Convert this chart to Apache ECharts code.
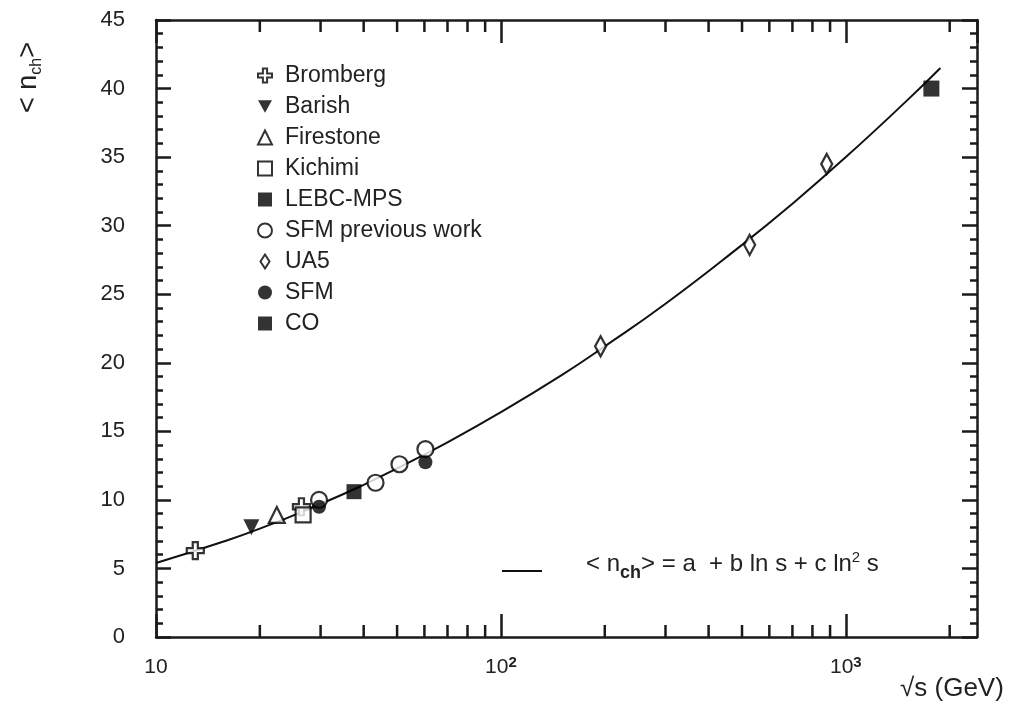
<!DOCTYPE html>
<html><head><meta charset="utf-8">
<script src="https://cdn.jsdelivr.net/npm/echarts@6/dist/echarts.min.js"></script>
<style>html,body{margin:0;padding:0;background:#fff}#c{width:1023px;height:705px}</style>
</head><body><div id="c"></div>
<script>
// ---- data ----
const seriesNames = ['Bromberg', 'Barish', 'Firestone', 'Kichimi', 'LEBC-MPS', 'SFM previous work', 'UA5', 'SFM', 'CO'];
const bromberg = [[13, 6.3], [26.4, 9.5]];
const barish = [[18.9, 8.0]];
const firestone = [[22.4, 8.9]];
const kichimi = [[26.7, 8.9]];
const lebcMps = [[37.5, 10.6]];
const sfmPrevious = [[29.7, 10.0], [43.3, 11.25], [50.8, 12.6], [60.4, 13.7]];
const ua5 = [[194.5, 21.2], [526, 28.6], [880, 34.5]];
const sfm = [[29.7, 9.5], [60.4, 12.75]];
const co = [[1770, 40.0]];
const fitX = [10, 15, 20, 30, 40, 50, 70, 100, 150, 200, 300, 500, 700, 1000, 1500, 1880];
const fitY = [5.4, 6.8, 7.9, 9.7, 11.1, 12.3, 14.2, 16.4, 19.1, 21.2, 24.3, 28.6, 31.6, 35.0, 39.1, 41.5];
const xMajorTicks = [10, 100, 1000];
const xMajorLabels = ['10', '10{sup|2}', '10{sup|3}'];
const xMinorTicks = [20, 30, 40, 50, 60, 70, 80, 90, 200, 300, 400, 500, 600, 700, 800, 900, 2000];
const yTicks = [0, 5, 10, 15, 20, 25, 30, 35, 40, 45];

// ---- chart ----
const FONTNAME = '"Liberation Sans", Arial, sans-serif';
const INK = '#1a1a1a';
const TXT = '#222';
const chart = echarts.init(document.getElementById('c'), null, {renderer: 'canvas'});

const measureCtx = document.createElement('canvas').getContext('2d');
function tw(text, size, weight) {
  measureCtx.font = (weight || 'normal') + ' ' + size + 'px ' + FONTNAME;
  return measureCtx.measureText(text).width;
}
function txt(text, x, y, size, weight, align) {
  return {type: 'text', x: x, y: y, style: {
    text: text, fontFamily: FONTNAME, fontSize: size, fontWeight: weight || 'normal',
    fill: TXT, align: align || 'left', verticalAlign: 'middle'}};
}

const crossPath = 'path://M7,0 H13 V7 H20 V13 H13 V20 H7 V13 H0 V7 H7 Z';
const downTri = 'path://M0,0 L20,0 L10,18 Z';
const narrowDiamond = 'path://M0,0 M20,20 M10,0 L15,10 L10,20 L5,10 Z';
const legendDiamond = 'path://M0,0 M20,20 M10,0 L16.5,10 L10,20 L3.5,10 Z';

function scatter(name, data, symbol, size, filled) {
  return {
    type: 'scatter', name: name, data: data, symbol: symbol, symbolSize: size, z: 5,
    itemStyle: filled ? {color: '#000', borderColor: '#000', borderWidth: 0}
                      : {color: '#fff', borderColor: '#000', borderWidth: 2.2},
    emphasis: {disabled: true}
  };
}

// y-axis title: "< n_ch >" rotated
const ttlBase = 27, ttlSub = 16;
const w1 = tw('< n', ttlBase), w2 = tw('ch', ttlSub);
const yTitle = {
  type: 'group', x: 29, y: 113, rotation: Math.PI / 2, z: 10,
  children: [
    txt('< n', 0, 0, ttlBase),
    txt('ch', w1, 8, ttlSub),
    txt('>', w1 + w2, 0, ttlBase)
  ]
};

// formula legend text
const fB = 24, fS = 18, fP = 15;
const parts = [
  ['< n', fB, 'normal', 0],
  ['ch', fS, 'bold', 9],
  ['> = a  + b ln s + c ln', fB, 'normal', 0],
  ['2', fP, 'normal', -6],
  [' s', fB, 'normal', 0]
];
let fx = 0;
const formulaChildren = parts.map(p => {
  const el = txt(p[0], fx, p[3], p[1], p[2]);
  fx += tw(p[0], p[1], p[2]);
  return el;
});
const formula = {type: 'group', x: 586, y: 564, z: 10, children: formulaChildren};

const option = {
  animation: false,
  backgroundColor: '#fff',
  grid: {left: 156, right: 46, top: 20, bottom: 68, containLabel: false},
  legend: {
    orient: 'vertical', left: 252, top: 59, itemWidth: 14, itemHeight: 14, itemGap: 8,
    selectedMode: false,
    textStyle: {fontFamily: FONTNAME, fontSize: 23, color: TXT, lineHeight: 22, padding: [0, 0, 0, 8]},
    data: seriesNames.map(n => n === 'UA5' ? {name: n, icon: legendDiamond} : {name: n})
  },
  xAxis: [{
    type: 'log', logBase: 10, min: 10, max: 2400, position: 'bottom',
    axisLine: {onZero: false, lineStyle: {color: INK, width: 2.5}},
    axisTick: {inside: true, length: 23, lineStyle: {color: INK, width: 2.5}},
    splitLine: {show: false},
    axisLabel: {
      margin: 18, showMaxLabel: false, hideOverlap: false,
      formatter: function (v) {
        const i = xMajorTicks.findIndex(t => Math.abs(Math.log10(t) - Math.log10(v)) < 1e-6);
        return i >= 0 ? xMajorLabels[i] : '';
      },
      rich: {
        sup: {fontFamily: FONTNAME, fontSize: 15, fontWeight: 'bold', color: TXT, verticalAlign: 'top', lineHeight: 10}
      },
      fontFamily: FONTNAME, fontSize: 21, color: TXT, lineHeight: 24
    }
  }, {
    type: 'log', logBase: 10, min: 10, max: 2400, position: 'top',
    axisLine: {onZero: false, lineStyle: {color: INK, width: 2.5}},
    axisTick: {inside: true, length: 23, lineStyle: {color: INK, width: 2.5}},
    axisLabel: {show: false}, splitLine: {show: false}
  }],
  yAxis: [{
    type: 'value', min: yTicks[0], max: yTicks[yTicks.length - 1], interval: 5, position: 'left',
    axisLine: {show: true, onZero: false, lineStyle: {color: INK, width: 2.5}},
    axisTick: {show: true, inside: true, length: 15, lineStyle: {color: INK, width: 2.5}},
    minorTick: {show: true, splitNumber: 5, length: 7, lineStyle: {color: INK, width: 2.5}},
    splitLine: {show: false},
    axisLabel: {margin: 31, fontFamily: FONTNAME, fontSize: 22, color: TXT}
  }, {
    type: 'value', min: yTicks[0], max: yTicks[yTicks.length - 1], interval: 5, position: 'right',
    axisLine: {show: true, onZero: false, lineStyle: {color: INK, width: 2.5}},
    axisTick: {show: true, inside: true, length: 15, lineStyle: {color: INK, width: 2.5}},
    minorTick: {show: true, splitNumber: 5, length: 7, lineStyle: {color: INK, width: 2.5}},
    splitLine: {show: false},
    axisLabel: {show: false}
  }],
  series: [
    {
      type: 'line', name: 'fit', data: fitX.map((x, i) => [x, fitY[i]]),
      smooth: true, showSymbol: false, symbol: 'none', z: 3,
      lineStyle: {color: '#111', width: 2}, emphasis: {disabled: true}
    },
    {
      type: 'custom', name: 'minorTicks', z: 4, silent: true,
      data: xMinorTicks.map(v => [v, 0]),
      renderItem: function (params, api) {
        const v = api.value(0);
        const pb = api.coord([v, yTicks[0]]);
        const pt = api.coord([v, yTicks[yTicks.length - 1]]);
        const st = {stroke: INK, lineWidth: 2.5};
        return {type: 'group', children: [
          {type: 'line', shape: {x1: pb[0], y1: pb[1], x2: pb[0], y2: pb[1] - 12}, style: st},
          {type: 'line', shape: {x1: pt[0], y1: pt[1], x2: pt[0], y2: pt[1] + 12}, style: st}
        ]};
      }
    },
    scatter('Bromberg', bromberg, crossPath, 17, false),
    scatter('Barish', barish, downTri, 16, true),
    scatter('Firestone', firestone, 'triangle', 16, false),
    scatter('Kichimi', kichimi, 'rect', 15, false),
    scatter('LEBC-MPS', lebcMps, 'rect', 15, true),
    scatter('SFM previous work', sfmPrevious, 'circle', 16, false),
    scatter('UA5', ua5, narrowDiamond, [22, 20], false),
    scatter('SFM', sfm, 'circle', 14, true),
    scatter('CO', co, 'rect', 16, true)
  ],
  graphic: [
    yTitle,
    {
      type: 'line', z: 10,
      shape: {x1: 502, y1: 571, x2: 542, y2: 571},
      style: {stroke: '#111', lineWidth: 2}
    },
    formula,
    txt('√s (GeV)', 900, 689, 26)
  ]
};
chart.setOption(option);
</script>
</body></html>
